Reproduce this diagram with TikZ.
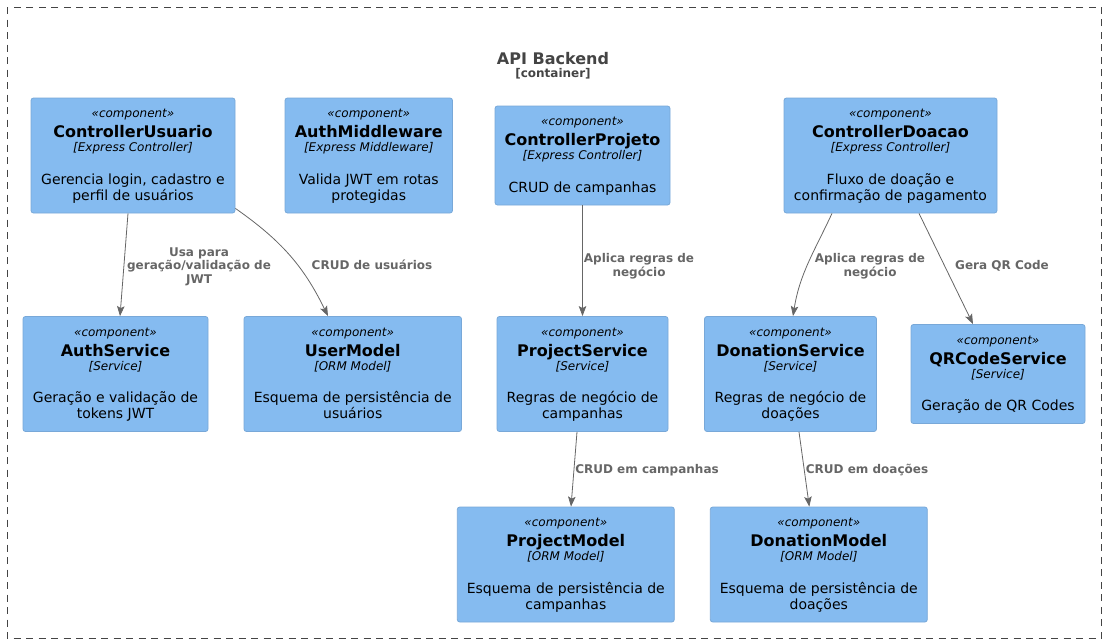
\documentclass[tikz,border=0pt]{standalone}
\usepackage{fontspec}
\setmainfont{DejaVu Sans}
\usetikzlibrary{arrows.meta,calc}
\definecolor{compfill}{HTML}{85BBF0}
\definecolor{compdraw}{HTML}{78A8D8}
\definecolor{edgecol}{HTML}{666666}
\definecolor{titlecol}{HTML}{444444}
\tikzset{
  compbox/.style={draw=compdraw, fill=compfill, rounded corners=2.5pt, line width=0.8pt, inner sep=0pt},
  stereo/.style={anchor=base, inner sep=0pt, font=\fontsize{12}{14}\selectfont\itshape},
  cname/.style={anchor=base, inner sep=0pt, font=\fontsize{16}{19}\selectfont\bfseries},
  techtxt/.style={anchor=base, inner sep=0pt, font=\fontsize{12}{14}\selectfont\itshape},
  desctxt/.style={anchor=base, inner sep=0pt, font=\fontsize{14}{16}\selectfont},
  edge/.style={draw=edgecol, line width=0.8pt, -{Stealth[length=10pt,width=7.5pt,inset=2pt]}},
  elabel/.style={anchor=base, inner sep=0pt, text=edgecol, font=\fontsize{12}{14}\selectfont\bfseries},
  boundary/.style={draw=titlecol, line width=0.9pt, dash pattern=on 7pt off 5.5pt},
}
% id, cx, cy, width, name, tech, desc1, desc2
\newcommand\compTwo[8]{%
  \node[compbox, minimum width=#4pt, minimum height=115pt] (#1) at (#2,#3) {};
  \node[stereo]  (#1-s)  at ($(#1.center)+(0,-38)$) {«component»};
  \node[cname]   (#1-n)  at ($(#1.center)+(0,-18)$) {#5};
  \node[techtxt] (#1-t)  at ($(#1.center)+(0,-3.8)$) {[#6]};
  \node[desctxt] (#1-d1) at ($(#1.center)+(0,28.8)$) {#7};
  \node[desctxt] (#1-d2) at ($(#1.center)+(0,44.6)$) {#8};
}
% id, cx, cy, width, name, tech, desc
\newcommand\compOne[7]{%
  \node[compbox, minimum width=#4pt, minimum height=99pt] (#1) at (#2,#3) {};
  \node[stereo]  (#1-s)  at ($(#1.center)+(0,-30)$) {«component»};
  \node[cname]   (#1-n)  at ($(#1.center)+(0,-10)$) {#5};
  \node[techtxt] (#1-t)  at ($(#1.center)+(0,4.2)$) {[#6]};
  \node[desctxt] (#1-d1) at ($(#1.center)+(0,36.8)$) {#7};
}
\begin{document}
\begin{tikzpicture}[x=1pt,y=-1pt]
\useasboundingbox (0,0) rectangle (1106,643);
\draw[boundary] (7,7) rectangle (1101.5,638);
\node[anchor=base, inner sep=0pt, text=titlecol, font=\fontsize{16}{19}\selectfont\bfseries] (title) at (553,64) {API Backend};
\node[anchor=base, inner sep=0pt, text=titlecol, font=\fontsize{12}{14}\selectfont\bfseries] (subtitle) at (553,77.3) {[container]};

\compTwo{cu}{133}{155.5}{204}{ControllerUsuario}{Express Controller}{Gerencia login, cadastro e}{perfil de usuários}
\compTwo{am}{368.75}{155.5}{167.5}{AuthMiddleware}{Express Middleware}{Valida JWT em rotas}{protegidas}
\compOne{cp}{582.5}{155.5}{175}{ControllerProjeto}{Express Controller}{CRUD de campanhas}
\compTwo{cd}{890.5}{155.5}{213}{ControllerDoacao}{Express Controller}{Fluxo de doação e}{confirmação de pagamento}

\compTwo{as}{115.5}{374}{185}{AuthService}{Service}{Geração e validação de}{tokens JWT}
\compTwo{um}{352.75}{374}{217.5}{UserModel}{ORM Model}{Esquema de persistência de}{usuários}
\compTwo{ps}{582.5}{374}{171}{ProjectService}{Service}{Regras de negócio de}{campanhas}
\compTwo{ds}{790.5}{374}{172}{DonationService}{Service}{Regras de negócio de}{doações}
\compOne{qr}{998}{374}{174}{QRCodeService}{Service}{Geração de QR Codes}

\compTwo{pm}{565.8}{564.5}{217}{ProjectModel}{ORM Model}{Esquema de persistência de}{campanhas}
\compTwo{dm}{818.8}{564.5}{217}{DonationModel}{ORM Model}{Esquema de persistência de}{doações}

% connectors
\draw[edge] ([xshift=-5pt]cu.south) -- ([xshift=4.5pt]as.north);
\draw[edge] ([yshift=5pt]cu.south east) to[out=-35,in=116] ([xshift=-24.75pt]um.north);
\draw[edge] (cp.south) -- (ps.north);
\draw[edge] ([xshift=-58.5pt]cd.south) to[out=-115,in=81] ([xshift=2.5pt]ds.north);
\draw[edge] ([xshift=28.5pt]cd.south) -- ([xshift=-25pt]qr.north);
\draw[edge] ([xshift=-5.5pt]ps.south) -- ([xshift=5.2pt]pm.north);
\draw[edge] ([xshift=8.5pt]ds.south) -- ([xshift=-9.5pt]dm.north);

% connector labels
\node[elabel] (l1a) at (199,256) {Usa para};
\node[elabel] (l1b) at (199,269.5) {geração/validação de};
\node[elabel] (l1c) at (199,283) {JWT};
\node[elabel] (l2) at (372,269.3) {CRUD de usuários};
\node[elabel] (l3a) at (639,262.8) {Aplica regras de};
\node[elabel] (l3b) at (639,276.5) {negócio};
\node[elabel] (l4a) at (870,262.8) {Aplica regras de};
\node[elabel] (l4b) at (870,276.5) {negócio};
\node[elabel] (l5) at (1002,269.3) {Gera QR Code};
\node[elabel] (l6) at (647,473.3) {CRUD em campanhas};
\node[elabel] (l7) at (867,473.3) {CRUD em doações};
\end{tikzpicture}
\end{document}
